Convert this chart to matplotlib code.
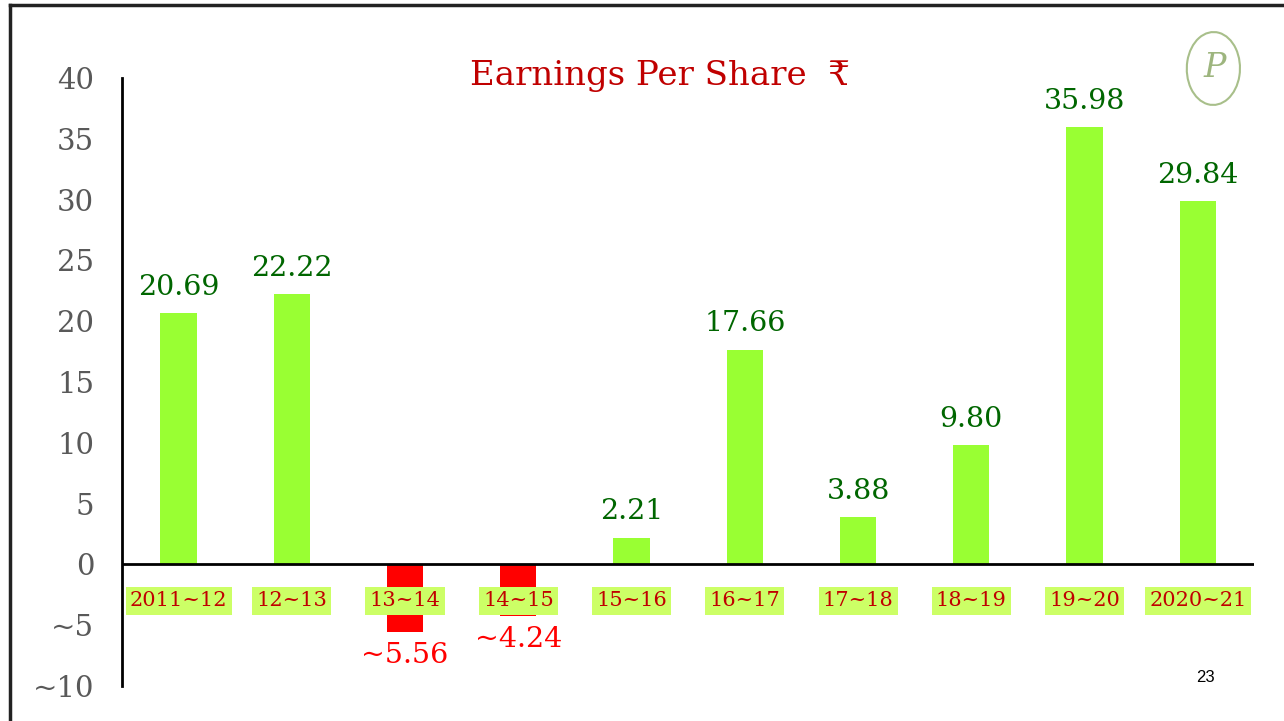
import matplotlib.pyplot as plt
from matplotlib.patches import Ellipse
from matplotlib.lines import Line2D

FIGURE_SIZE = (12.84, 7.21)

years = ["2011~12", "12~13", "13~14", "14~15", "15~16", "16~17", "17~18", "18~19", "19~20", "2020~21"]
eps = [20.69, 22.22, -5.56, -4.24, 2.21, 17.66, 3.88, 9.80, 35.98, 29.84]
yticks = [40, 35, 30, 25, 20, 15, 10, 5, 0, -5, -10]

POS_COLOR = "#99FF33"
NEG_COLOR = "#FF0000"
SERIF = ["DejaVu Serif", "DejaVu Sans"]


def fmt(v):
    # the slide shows minus signs as tildes
    s = f"{abs(v):.2f}"
    return ("~" + s) if v < 0 else s


fig = plt.figure(figsize=FIGURE_SIZE, dpi=100)
ax = fig.add_axes([0.095, 0.0485, 0.882, 0.8435])

x = list(range(len(years)))
colors = [POS_COLOR if v >= 0 else NEG_COLOR for v in eps]
ax.bar(x, eps, width=0.32, color=colors, zorder=2)

ax.set_xlim(-0.5, len(years) - 0.5)
ax.set_ylim(-10, 40)
ax.set_yticks(yticks)
ax.set_yticklabels([str(t).replace("-", "~") for t in yticks],
                   family=SERIF, fontsize=21, color="#595959")
ax.tick_params(axis="y", length=0, pad=20)
ax.set_xticks([])
for side in ("top", "right", "bottom"):
    ax.spines[side].set_visible(False)
ax.spines["left"].set_linewidth(2)
ax.axhline(0, color="black", linewidth=2, zorder=3)

# category labels sit just under the zero line
for xi, lab in zip(x, years):
    ax.text(xi, -3.0, lab, ha="center", va="center", family=SERIF, fontsize=15,
            color="#C00000", zorder=5,
            bbox=dict(boxstyle="square,pad=0.2", facecolor="#CCFF66", edgecolor="none"))

# value labels
for xi, v in zip(x, eps):
    if v >= 0:
        ax.text(xi, v + 1.0, fmt(v), ha="center", va="bottom", family=SERIF,
                fontsize=20.5, color="#006600", zorder=5)
    else:
        ax.text(xi, v - 0.8, fmt(v), ha="center", va="top", family=SERIF,
                fontsize=20.5, color=NEG_COLOR, zorder=5)

# title
fig.text(0.514, 0.895, "Earnings Per Share  ₹", ha="center", va="center",
         family=SERIF, fontsize=24.5, color="#C00000")

# slide border (left and top edges)
fig.add_artist(Line2D([0.008, 0.008], [0.0, 0.993], transform=fig.transFigure,
                      color="#222222", linewidth=2.5))
fig.add_artist(Line2D([0.008, 1.0], [0.993, 0.993], transform=fig.transFigure,
                      color="#222222", linewidth=2.5))

# logo
logo_ax = fig.add_axes([0.922, 0.85, 0.046, 0.11])
logo_ax.set_xlim(0, 1)
logo_ax.set_ylim(0, 1)
logo_ax.axis("off")
logo_ax.add_patch(Ellipse((0.5, 0.5), 0.9, 0.92, angle=-12, fill=False,
                          edgecolor="#A8BF8A", linewidth=1.5))
logo_ax.text(0.52, 0.5, "P", ha="center", va="center", fontsize=24,
             family=SERIF, style="italic", color="#9DB57E")

# page number
fig.text(0.939, 0.061, "23", ha="center", va="center",
         family="Liberation Sans", fontsize=12, color="black")

fig.savefig("out.png", dpi=100, facecolor="white")
